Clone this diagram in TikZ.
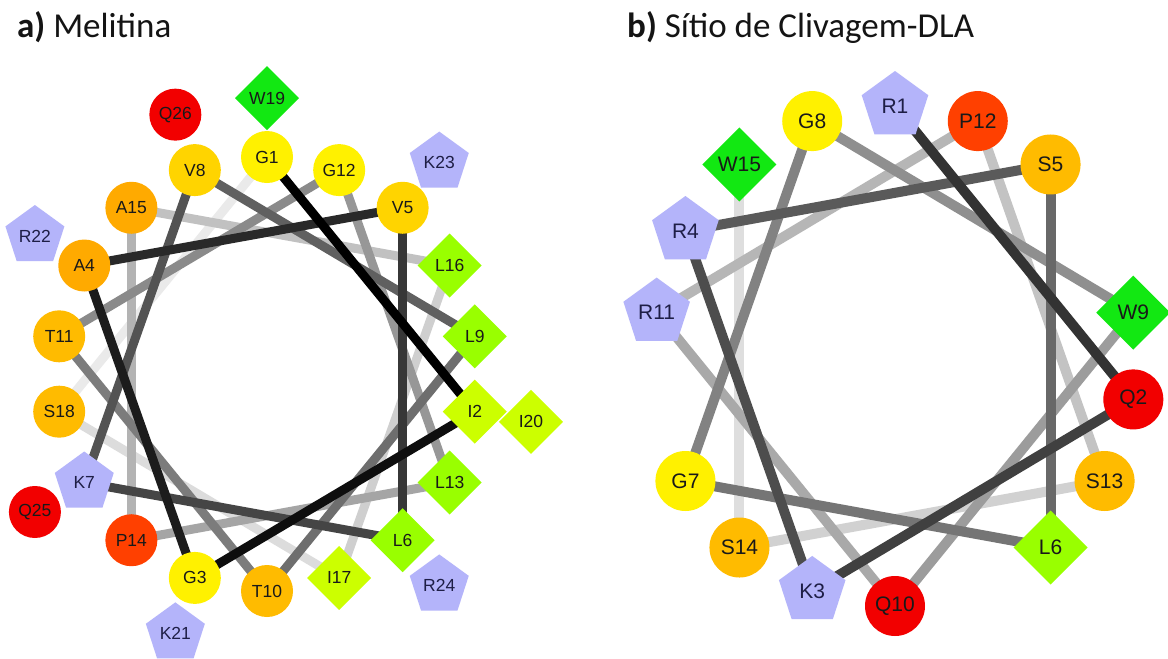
\documentclass[tikz,border=0pt]{standalone}
\usepackage{fontspec}
\setmainfont{Carlito}
\newfontfamily\labfont{Liberation Sans}
\usetikzlibrary{shapes.geometric}
\pgfdeclarelayer{back}
\pgfdeclarelayer{bg}
\pgfsetlayers{back,bg,main}
\definecolor{colG}{HTML}{FFF100}
\definecolor{colV}{HTML}{FFD400}
\definecolor{colA}{HTML}{FFAA00}
\definecolor{colT}{HTML}{FFBB00}
\definecolor{colP}{HTML}{FF4000}
\definecolor{colQ}{HTML}{F20000}
\definecolor{colW}{HTML}{12E812}
\definecolor{colL}{HTML}{99FF00}
\definecolor{colI}{HTML}{CCFF00}
\definecolor{colK}{HTML}{B4B4FA}
\definecolor{txtK}{HTML}{1E1E46}
\begin{document}
\begin{tikzpicture}[x=1pt,y=-1pt,
  res/.style={inner sep=0pt, outer sep=0pt, text=black!90, font=\labfont\fontsize{\labsz}{\labsz}\selectfont},
  circres/.style={res, circle, minimum size=\csz},
  diares/.style={res, diamond, minimum size=\dsz},
  pentres/.style={res, regular polygon, regular polygon sides=5, minimum size=\psz},
  resG/.style={circres, fill=colG},
  resV/.style={circres, fill=colV},
  resA/.style={circres, fill=colA},
  resT/.style={circres, fill=colT},
  resP/.style={circres, fill=colP},
  resQ/.style={circres, fill=colQ},
  resW/.style={diares, fill=colW},
  resL/.style={diares, fill=colL},
  resI/.style={diares, fill=colI},
  resK/.style={pentres, fill=colK, text=txtK},
  title/.style={anchor=base west, inner sep=0pt, text=black!92, font=\fontsize{35}{40}\selectfont},
  link/.style={line width=\lw, line cap=butt}]
\begin{pgfonlayer}{back}
\fill[white] (0,0) rectangle (1168,659);
\end{pgfonlayer}
\useasboundingbox (0,0) rectangle (1168,659);

\node[title] (ta) at (17,37) {\textbf{a)} Melitina};
\node[title] (tb) at (627,37) {\textbf{b)} Sítio de Clivagem-DLA};

% ---------- a) Melitina ----------
\def\labsz{17.5}\def\csz{52}\def\dsz{64}\def\psz{62}\def\lw{9}
\foreach \n/\lab/\sty in {1/G1/resG, 2/I2/resI, 3/G3/resG, 4/A4/resA, 5/V5/resV,
  6/L6/resL, 7/K7/resK, 8/V8/resV, 9/L9/resL, 10/T10/resT, 11/T11/resT,
  12/G12/resG, 13/L13/resL, 14/P14/resP, 15/A15/resA, 16/L16/resL, 17/I17/resI,
  18/S18/resT, 19/W19/resW, 20/I20/resI, 21/K21/resK, 22/R22/resK, 23/K23/resK,
  24/R24/resK, 25/Q25/resQ, 26/Q26/resQ}{
  \pgfmathsetmacro\ang{90-100*(\n-1)}
  \pgfmathsetmacro\rx{ifthenelse(\n>18,268,211)}
  \pgfmathsetmacro\ry{ifthenelse(\n>18,276,217)}
  \node[\sty] (m\n) at ({267+\rx*cos(\ang)},{374-\ry*sin(\ang)}) {\lab};
}
\begin{pgfonlayer}{bg}
\foreach \k in {18,17,...,1}{
  \pgfmathtruncatemacro\nx{mod(\k,18)+1}
  \pgfmathsetmacro\w{(\k-1)*5.4}
  \draw[link, color=white!\w!black] (m\k.center) -- (m\nx.center);
}
\end{pgfonlayer}

% ---------- b) Sitio de Clivagem-DLA ----------
\def\labsz{21}\def\csz{60}\def\dsz{74}\def\psz{70}\def\lw{10}
\foreach \n/\lab/\sty in {1/R1/resK, 2/Q2/resQ, 3/K3/resK, 4/R4/resK, 5/S5/resT,
  6/L6/resL, 7/G7/resG, 8/G8/resG, 9/W9/resW, 10/Q10/resQ, 11/R11/resK,
  12/P12/resP, 13/S13/resT, 14/S14/resT, 15/W15/resW}{
  \pgfmathsetmacro\ang{90-100*(\n-1)}
  \node[\sty] (d\n) at ({895+242*cos(\ang)},{356-250*sin(\ang)}) {\lab};
}
\begin{pgfonlayer}{bg}
\foreach \k in {14,13,...,1}{
  \pgfmathtruncatemacro\nx{\k+1}
  \pgfmathsetmacro\w{20+(\k-1)*5.15}
  \draw[link, color=white!\w!black] (d\k.center) -- (d\nx.center);
}
\end{pgfonlayer}
\end{tikzpicture}
\end{document}
